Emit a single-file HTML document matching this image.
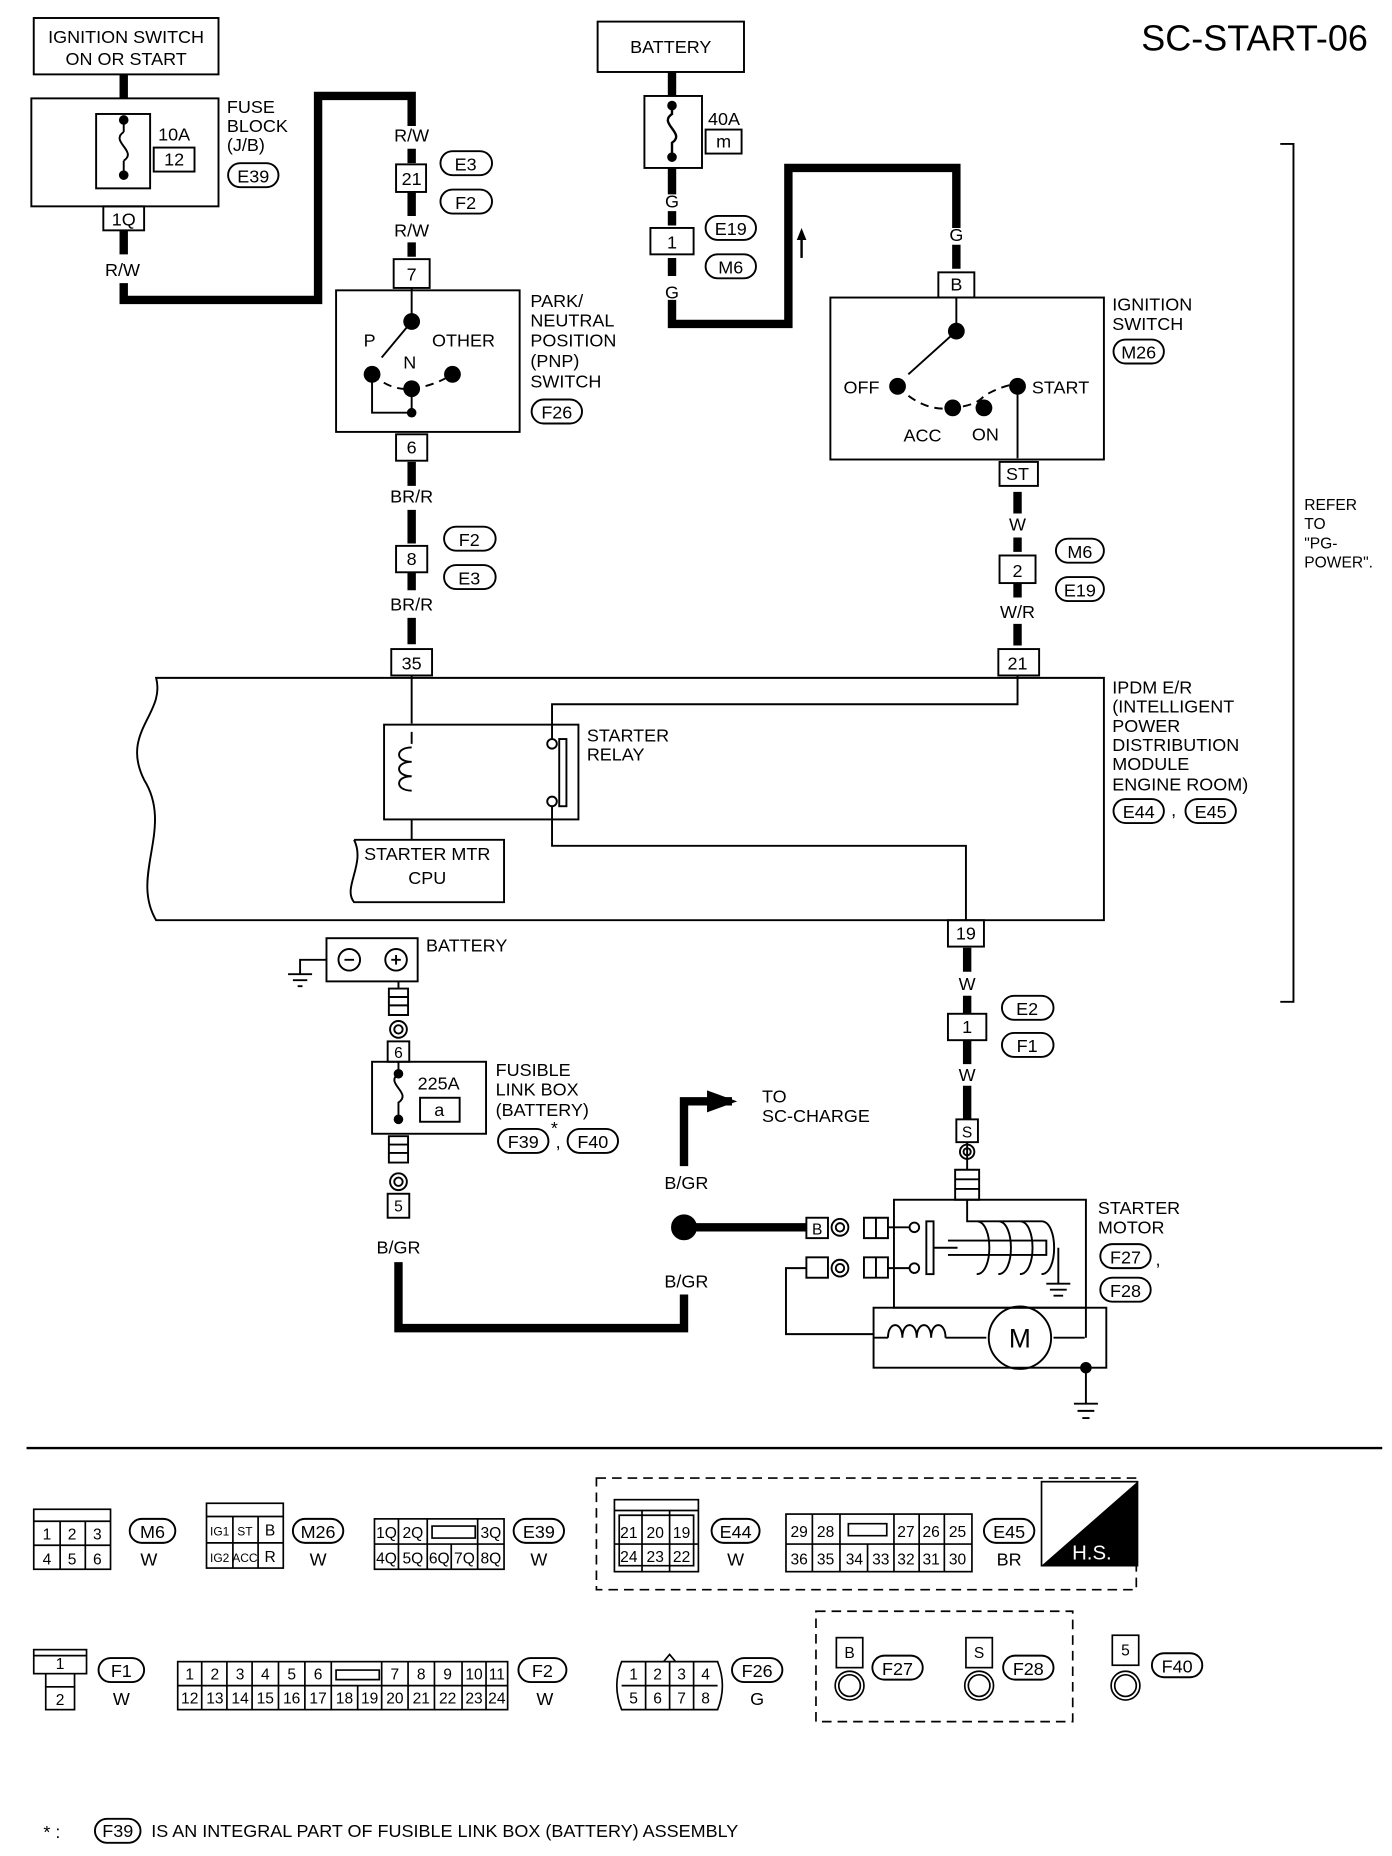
<!DOCTYPE html>
<html><head><meta charset="utf-8"><style>
html,body{margin:0;padding:0;background:#fff}
svg{display:block}
text{font-family:"Liberation Sans",sans-serif;font-size:15px;fill:#000}
.s{font-size:13px}
.c{text-anchor:middle}
</style></head><body>
<svg width="1392" height="1856" viewBox="0 0 1160 1547" xmlns="http://www.w3.org/2000/svg">
<g fill="none" stroke="#000" stroke-width="1.6">
<rect x="28" y="15" width="154" height="47"/>
<rect x="26" y="82" width="156" height="90"/>
<rect x="80" y="95" width="45" height="62"/>
<rect x="128" y="123" width="34" height="20"/>
<path d="M103 100 v10 M103 110 c-12 8 12 16 0 24 M103 134 v12" />
<rect x="86" y="172" width="34" height="20"/>
<path d="M103 62 v20 M103 192 v20 M103 236 v14 h162 v-170 h78 v25 M343 124 v12 M343 160 v20 M343 202 v12 M343 385 v20 M343 425 v28 M343 477 v15 M343 515 v22" stroke-width="7"/>
<rect x="330" y="137" width="25" height="23"/>
<rect x="328" y="216" width="30" height="24"/>
<rect x="280" y="242" width="153" height="118"/>
<rect x="330" y="362" width="26" height="22"/>
<rect x="330" y="455" width="26" height="22"/>
<rect x="326" y="541" width="34" height="22"/>
<path d="M343 240 v28 M343 268 L318 298 M310 312 v32 h33 v-20 M343 324 v20" />
<path d="M310 312 q16 14 33 12 q18 -2 34 -12" stroke-dasharray="7 5"/>
<rect x="498" y="18" width="122" height="42"/>
<rect x="537" y="80" width="48" height="60"/>
<path d="M560 85 v10 c-12 8 12 16 0 24 v12" stroke-width="2"/>
<path d="M560 60 v20" stroke-width="7"/>
<rect x="588" y="108" width="30" height="20"/>
<path d="M560 140 v22 M560 176 v12 M560 215 v15 M560 250 v20 h97 v-130 h140 v50 M797 204 v20" stroke-width="7"/>
<rect x="542" y="190" width="36" height="22"/>
<path d="M668 215 v-20" stroke-width="2"/>
<rect x="782" y="227" width="30" height="21"/>
<rect x="692" y="248" width="228" height="135"/>
<path d="M797 248 v28 L757 312 M848 322 v60" />
<path d="M748 322 q22 22 46 18 q20 -2 26 -10 q14 -8 26 -10" stroke-dasharray="7 5"/>
<rect x="833" y="385" width="32" height="20"/>
<path d="M848 410 v18 M848 448 v12 M848 486 v12 M848 520 v18" stroke-width="7"/>
<rect x="833" y="463" width="30" height="23"/>
<rect x="832" y="541" width="34" height="22"/>
<path d="M130 565 H920 V767 H130 C108 730 145 690 120 650 C100 610 138 595 130 565Z"/>
<rect x="320" y="604" width="162" height="79"/>
<path d="M343 563 v40 M343 620 v-10 M343 683 v17 M460 620 v-33 h388 v-24 M460 668 v37 h345 v62"/>
<path d="M343 623 c-14 0 -14 12 0 12 c-14 0 -14 12 0 12 c-14 0 -14 12 0 12" />
<rect x="466" y="616" width="6" height="56"/>
<circle cx="460" cy="620" r="4" fill="#fff"/><circle cx="460" cy="668" r="4" fill="#fff"/>
<path d="M295 700 H420 V752 H295 C285 740 305 720 295 700"/>
<rect x="790" y="767" width="30" height="22"/>
<path d="M806 790 v20 M806 830 v15 M806 867 v20 M806 905 v28" stroke-width="7"/>
<rect x="790" y="845" width="32" height="22"/>
<rect x="797" y="933" width="18" height="19"/>
<circle cx="806" cy="960" r="6"/><circle cx="806" cy="960" r="3"/>
<path d="M1067 120 h11 v715 h-11"/>
<rect x="272" y="782" width="76" height="36"/>
<circle cx="291" cy="800" r="9"/><circle cx="330" cy="800" r="9"/>
<path d="M287 800 h8 M326 800 h8 M330 796 v8 M272 800 h-22 v12 M240 812 h20 M244 817 h12 M248 822 h4"/>
<path d="M332 818 v6 M324 824 h16 v22 h-16z M324 831 h16 M324 838 h16"/>
<circle cx="332" cy="858" r="7"/><circle cx="332" cy="858" r="3.5"/>
<rect x="323" y="868" width="18" height="17"/>
<rect x="310" y="885" width="95" height="60"/>
<path d="M332 885 v10 c-12 8 12 16 0 24 v14"/>
<rect x="350" y="915" width="33" height="20"/>
<path d="M324 947 h16 v22 h-16z M324 954 h16 M324 961 h16"/>
<circle cx="332" cy="985" r="7"/><circle cx="332" cy="985" r="3.5"/>
<rect x="323" y="995" width="18" height="20"/>
<path d="M332 1052 v55 h238 v-28 M570 972 v-54 h40" stroke-width="7"/>
<path d="M590 926 l22 -8 l-22 -8z" fill="#000"/>
<path d="M570 1023 h102" stroke-width="7"/>
<circle cx="570" cy="1023" r="10" fill="#000"/>
<rect x="672" y="1015" width="18" height="17"/>
<circle cx="700" cy="1023" r="7"/><circle cx="700" cy="1023" r="3.5"/>
<rect x="672" y="1048" width="18" height="17"/>
<circle cx="700" cy="1057" r="7"/><circle cx="700" cy="1057" r="3.5"/>
<path d="M672 1057 h-17 v55 h73"/>
<rect x="745" y="1000" width="160" height="90"/>
<path d="M720 1015 h20 v17 h-20z M730 1015 v17 M720 1048 h20 v17 h-20z M730 1048 v17"/>
<path d="M796 975 h20 v25 h-20z M796 983 h20 M796 991 h20 M806 952 v23"/>
<path d="M740 1023 h20 M740 1057 h20"/>
<circle cx="762" cy="1023" r="4" fill="#fff"/><circle cx="762" cy="1057" r="4" fill="#fff"/>
<rect x="772" y="1018" width="6" height="44"/>
<path d="M778 1040 h20 M790 1034 h82 v12 h-82"/>
<path d="M806 1000 v18 h8 M814 1018 c14 0 14 44 0 44 M832 1018 c14 0 14 44 0 44 M850 1018 c14 0 14 44 0 44 M868 1018 c14 0 14 44 0 44 M814 1018 h54 M882 1040 v30 M872 1070 h20 M875 1075 h14 M878 1080 h8"/>
<rect x="728" y="1090" width="194" height="50"/>
<path d="M740 1115 c0 -14 12 -14 12 0 c0 -14 12 -14 12 0 c0 -14 12 -14 12 0 c0 -14 12 -14 12 0 M728 1115 h12 M788 1115 h34 M878 1115 h26"/>
<circle cx="850" cy="1115" r="26"/>
<path d="M905 1090 v25 M905 1140 v30 M895 1170 h20 M898 1176 h14 M902 1182 h6"/>
<circle cx="905" cy="1140" r="4" fill="#000"/>
<path d="M22 1207 H1152" stroke-width="2"/>
</g>
<g fill="#000">
<circle cx="103" cy="146" r="4"/><circle cx="103" cy="100" r="4"/>
<circle cx="343" cy="268" r="7"/><circle cx="310" cy="312" r="7"/><circle cx="343" cy="324" r="7"/><circle cx="377" cy="312" r="7"/><circle cx="343" cy="344" r="4"/>
<circle cx="560" cy="88" r="4"/><circle cx="560" cy="131" r="4"/>
<circle cx="797" cy="276" r="7"/><circle cx="748" cy="322" r="7"/><circle cx="794" cy="340" r="7"/><circle cx="820" cy="340" r="7"/><circle cx="848" cy="322" r="7"/>
<circle cx="332" cy="895" r="4"/><circle cx="332" cy="933" r="4"/>
<path d="M668 190 l-4 10 h8z"/>
</g>
<g fill="#fff" stroke="#000" stroke-width="1.6">
<rect x="190" y="136" width="42" height="20" rx="10"/>
<rect x="367" y="126" width="43" height="20" rx="10"/><rect x="367" y="158" width="43" height="20" rx="10"/>
<rect x="443" y="333" width="42" height="20" rx="10"/>
<rect x="370" y="439" width="43" height="20" rx="10"/><rect x="370" y="471" width="43" height="20" rx="10"/>
<rect x="588" y="180" width="42" height="20" rx="10"/><rect x="588" y="212" width="42" height="20" rx="10"/>
<rect x="928" y="283" width="42" height="20" rx="10"/>
<rect x="880" y="449" width="40" height="20" rx="10"/><rect x="880" y="481" width="40" height="20" rx="10"/>
<rect x="928" y="666" width="42" height="20" rx="10"/><rect x="988" y="666" width="42" height="20" rx="10"/>
<rect x="835" y="830" width="43" height="20" rx="10"/><rect x="835" y="861" width="43" height="20" rx="10"/>
<rect x="415" y="941" width="42" height="20" rx="10"/><rect x="473" y="941" width="42" height="20" rx="10"/>
<rect x="917" y="1037" width="42" height="20" rx="10"/><rect x="917" y="1065" width="42" height="20" rx="10"/>
</g>
<text x="105" y="36" class="c">IGNITION SWITCH</text><text x="105" y="54" class="c">ON OR START</text>
<text x="189" y="94">FUSE</text><text x="189" y="110">BLOCK</text><text x="189" y="126">(J/B)</text><text x="211" y="152" class="c">E39</text>
<text x="145" y="117" class="c">10A</text><text x="145" y="138" class="c">12</text>
<text x="103" y="188" class="c">1Q</text><text x="102" y="230" class="c">R/W</text>
<text x="343" y="118" class="c">R/W</text><text x="343" y="154" class="c">21</text><text x="388" y="142" class="c">E3</text><text x="388" y="174" class="c">F2</text>
<text x="343" y="197" class="c">R/W</text><text x="343" y="234" class="c">7</text>
<text x="442" y="256">PARK/</text><text x="442" y="272">NEUTRAL</text><text x="442" y="289">POSITION</text><text x="442" y="306">(PNP)</text><text x="442" y="323">SWITCH</text><text x="464" y="349" class="c">F26</text>
<text x="303" y="289">P</text><text x="360" y="289">OTHER</text><text x="336" y="307">N</text>
<text x="343" y="378" class="c">6</text><text x="343" y="419" class="c">BR/R</text>
<text x="343" y="471" class="c">8</text><text x="391" y="455" class="c">F2</text><text x="391" y="487" class="c">E3</text>
<text x="343" y="509" class="c">BR/R</text><text x="343" y="558" class="c">35</text>
<text x="559" y="44" class="c">BATTERY</text><text x="590" y="104">40A</text><text x="603" y="123" class="c">m</text>
<text x="560" y="173" class="c">G</text><text x="560" y="207" class="c">1</text><text x="609" y="196" class="c">E19</text><text x="609" y="228" class="c">M6</text><text x="560" y="249" class="c">G</text>
<text x="797" y="201" class="c">G</text><text x="797" y="242" class="c">B</text>
<text x="927" y="259">IGNITION</text><text x="927" y="275">SWITCH</text><text x="949" y="299" class="c">M26</text>
<text x="703" y="328">OFF</text><text x="860" y="328">START</text><text x="753" y="368">ACC</text><text x="810" y="367">ON</text>
<text x="848" y="400" class="c">ST</text><text x="848" y="442" class="c">W</text><text x="848" y="481" class="c">2</text><text x="900" y="465" class="c">M6</text><text x="900" y="497" class="c">E19</text>
<text x="848" y="515" class="c">W/R</text><text x="848" y="558" class="c">21</text>
<text x="927" y="578">IPDM E/R</text><text x="927" y="594">(INTELLIGENT</text><text x="927" y="610">POWER</text><text x="927" y="626">DISTRIBUTION</text><text x="927" y="642">MODULE</text><text x="927" y="659">ENGINE ROOM)</text>
<text x="949" y="682" class="c">E44</text><text x="976" y="680">,</text><text x="1009" y="682" class="c">E45</text>
<text x="489" y="618">STARTER</text><text x="489" y="634">RELAY</text>
<text x="356" y="717" class="c">STARTER MTR</text><text x="356" y="737" class="c">CPU</text>
<text x="1087" y="425" class="s">REFER</text><text x="1087" y="441" class="s">TO</text><text x="1087" y="457" class="s">"PG-</text><text x="1087" y="473" class="s">POWER".</text>
<text x="805" y="783" class="c">19</text><text x="806" y="825" class="c">W</text><text x="806" y="861" class="c">1</text><text x="856" y="846" class="c">E2</text><text x="856" y="877" class="c">F1</text><text x="806" y="901" class="c">W</text><text x="806" y="948" class="c s">S</text>
<text x="355" y="793">BATTERY</text><text x="332" y="882" class="c s">6</text>
<text x="348" y="908">225A</text><text x="366" y="930" class="c">a</text>
<text x="413" y="897">FUSIBLE</text><text x="413" y="913">LINK BOX</text><text x="413" y="930">(BATTERY)</text>
<text x="436" y="957" class="c">F39</text><text x="459" y="945">*</text><text x="463" y="957">,</text><text x="494" y="957" class="c">F40</text>
<text x="332" y="1010" class="c s">5</text><text x="332" y="1045" class="c">B/GR</text>
<text x="572" y="991" class="c">B/GR</text><text x="572" y="1073" class="c">B/GR</text>
<text x="635" y="919">TO</text><text x="635" y="935">SC-CHARGE</text>
<text x="681" y="1029" class="c s">B</text>
<text x="915" y="1012">STARTER</text><text x="915" y="1028">MOTOR</text><text x="938" y="1053" class="c">F27</text><text x="963" y="1055">,</text><text x="938" y="1081" class="c">F28</text>
<text x="850" y="1123" class="c" style="font-size:22px">M</text>
<text x="1140" y="42" style="font-size:30px;text-anchor:end">SC-START-06</text>
<text x="1145" y="1556" style="font-size:10px;text-anchor:end">WKWA5776E</text>
<text x="36" y="1532">* :</text>
<rect x="79" y="1516" width="38" height="20" rx="10" fill="none" stroke="#000" stroke-width="1.6"/>
<text x="98" y="1531" class="c">F39</text>
<text x="126" y="1531">IS AN INTEGRAL PART OF FUSIBLE LINK BOX (BATTERY) ASSEMBLY</text>
<g fill="none" stroke="#000" stroke-width="1.4">
<rect x="28" y="1258" width="64" height="50"/><path d="M28 1268 h64 M28 1288 h64 M50 1268 v40 M71 1268 v40"/>
<rect x="172" y="1253" width="64" height="54"/><path d="M172 1264 h64 M172 1286 h64 M194 1264 v43 M215 1264 v43"/>
<rect x="312" y="1266" width="108" height="42"/><path d="M312 1287 h108 M332 1266 v42 M356 1266 v42 M398 1266 v42 M376 1287 v21 M360 1272 h36 v10 h-36z"/>
<rect x="497" y="1232" width="450" height="93" stroke-dasharray="8 5"/>
<rect x="512" y="1250" width="70" height="60"/><path d="M512 1259 h70 M512 1287 h70 M535 1259 v51 M558 1259 v51 M516 1263 h62 v42 h-62z"/>
<rect x="655" y="1262" width="155" height="48"/><path d="M655 1287 h155 M677 1262 v48 M700 1262 v48 M745 1262 v25 M766 1262 v48 M787 1262 v48 M723 1287 v23 M745 1287 v23 M707 1270 h32 v10 h-32z"/>
<rect x="680" y="1343" width="214" height="92" stroke-dasharray="8 5"/>
<rect x="28" y="1375" width="44" height="20"/><rect x="38" y="1406" width="24" height="19"/><path d="M38 1395 v11 M62 1395 v11 M28 1380 h44"/>
<rect x="148" y="1385" width="275" height="40"/><path d="M148 1405 h275 M168 1385 v40 M189 1385 v40 M210 1385 v40 M232 1385 v40 M254 1385 v40 M276 1385 v40 M318 1385 v40 M340 1385 v40 M362 1385 v40 M385 1385 v40 M405 1385 v40 M298 1405 v20 M280 1392 h36 v8 h-36z"/>
<path d="M518 1385 h80 q8 20 0 40 h-80 q-8 -20 0 -40z M538 1385 v40 M558 1385 v40 M578 1385 v40 M518 1405 h80 M553 1385 l5 -6 l5 6"/>
<rect x="697" y="1365" width="22" height="25"/><circle cx="708" cy="1405" r="12"/><circle cx="708" cy="1405" r="9"/>
<rect x="805" y="1365" width="22" height="25"/><circle cx="816" cy="1405" r="12"/><circle cx="816" cy="1405" r="9"/>
<rect x="927" y="1363" width="22" height="25"/><circle cx="938" cy="1405" r="12"/><circle cx="938" cy="1405" r="9"/>
</g>
<g fill="#fff" stroke="#000" stroke-width="1.6">
<rect x="108" y="1266" width="38" height="20" rx="10"/><rect x="244" y="1266" width="42" height="20" rx="10"/><rect x="428" y="1266" width="42" height="20" rx="10"/>
<rect x="593" y="1266" width="40" height="20" rx="10"/><rect x="820" y="1266" width="42" height="20" rx="10"/>
<rect x="82" y="1382" width="38" height="20" rx="10"/><rect x="432" y="1382" width="40" height="20" rx="10"/><rect x="610" y="1382" width="42" height="20" rx="10"/>
<rect x="727" y="1380" width="42" height="20" rx="10"/><rect x="836" y="1380" width="42" height="20" rx="10"/><rect x="960" y="1378" width="42" height="20" rx="10"/>
</g>
<path d="M868 1305 L948 1235 V1305Z" fill="#000"/>
<rect x="868" y="1235" width="80" height="70" fill="none" stroke="#000" stroke-width="1.4"/>
<text x="910" y="1300" class="c" style="fill:#fff;font-size:17px">H.S.</text>
<g class="s">
<text x="39" y="1283" class="c s">1</text><text x="60" y="1283" class="c s">2</text><text x="81" y="1283" class="c s">3</text><text x="39" y="1304" class="c s">4</text><text x="60" y="1304" class="c s">5</text><text x="81" y="1304" class="c s">6</text>
<text x="127" y="1282" class="c">M6</text><text x="124" y="1305" class="c">W</text>
<text x="183" y="1280" class="c" style="font-size:10px">IG1</text><text x="204" y="1280" class="c" style="font-size:10px">ST</text><text x="225" y="1280" class="c s">B</text>
<text x="183" y="1302" class="c" style="font-size:10px">IG2</text><text x="204" y="1302" class="c" style="font-size:10px">ACC</text><text x="225" y="1302" class="c s">R</text>
<text x="265" y="1282" class="c">M26</text><text x="265" y="1305" class="c">W</text>
<text x="322" y="1282" class="c s">1Q</text><text x="344" y="1282" class="c s">2Q</text><text x="409" y="1282" class="c s">3Q</text>
<text x="322" y="1303" class="c s">4Q</text><text x="344" y="1303" class="c s">5Q</text><text x="366" y="1303" class="c s">6Q</text><text x="387" y="1303" class="c s">7Q</text><text x="409" y="1303" class="c s">8Q</text>
<text x="449" y="1282" class="c">E39</text><text x="449" y="1305" class="c">W</text>
<text x="524" y="1282" class="c s">21</text><text x="546" y="1282" class="c s">20</text><text x="568" y="1282" class="c s">19</text>
<text x="524" y="1302" class="c s">24</text><text x="546" y="1302" class="c s">23</text><text x="568" y="1302" class="c s">22</text>
<text x="613" y="1282" class="c">E44</text><text x="613" y="1305" class="c">W</text>
<text x="666" y="1281" class="c s">29</text><text x="688" y="1281" class="c s">28</text><text x="755" y="1281" class="c s">27</text><text x="776" y="1281" class="c s">26</text><text x="798" y="1281" class="c s">25</text>
<text x="666" y="1304" class="c s">36</text><text x="688" y="1304" class="c s">35</text><text x="712" y="1304" class="c s">34</text><text x="734" y="1304" class="c s">33</text><text x="755" y="1304" class="c s">32</text><text x="776" y="1304" class="c s">31</text><text x="798" y="1304" class="c s">30</text>
<text x="841" y="1282" class="c">E45</text><text x="841" y="1305" class="c">BR</text>
<text x="50" y="1391" class="c s">1</text><text x="50" y="1421" class="c s">2</text>
<text x="101" y="1398" class="c">F1</text><text x="101" y="1421" class="c">W</text>
<text x="158" y="1400" class="c s">1</text><text x="179" y="1400" class="c s">2</text><text x="200" y="1400" class="c s">3</text><text x="221" y="1400" class="c s">4</text><text x="243" y="1400" class="c s">5</text><text x="265" y="1400" class="c s">6</text><text x="329" y="1400" class="c s">7</text><text x="351" y="1400" class="c s">8</text><text x="373" y="1400" class="c s">9</text><text x="395" y="1400" class="c s">10</text><text x="414" y="1400" class="c s">11</text>
<text x="158" y="1420" class="c s">12</text><text x="179" y="1420" class="c s">13</text><text x="200" y="1420" class="c s">14</text><text x="221" y="1420" class="c s">15</text><text x="243" y="1420" class="c s">16</text><text x="265" y="1420" class="c s">17</text><text x="287" y="1420" class="c s">18</text><text x="308" y="1420" class="c s">19</text><text x="329" y="1420" class="c s">20</text><text x="351" y="1420" class="c s">21</text><text x="373" y="1420" class="c s">22</text><text x="395" y="1420" class="c s">23</text><text x="414" y="1420" class="c s">24</text>
<text x="452" y="1398" class="c">F2</text><text x="454" y="1421" class="c">W</text>
<text x="528" y="1400" class="c s">1</text><text x="548" y="1400" class="c s">2</text><text x="568" y="1400" class="c s">3</text><text x="588" y="1400" class="c s">4</text>
<text x="528" y="1420" class="c s">5</text><text x="548" y="1420" class="c s">6</text><text x="568" y="1420" class="c s">7</text><text x="588" y="1420" class="c s">8</text>
<text x="631" y="1398" class="c">F26</text><text x="631" y="1421" class="c">G</text>
<text x="708" y="1382" class="c s">B</text><text x="748" y="1396" class="c">F27</text>
<text x="816" y="1382" class="c s">S</text><text x="857" y="1396" class="c">F28</text>
<text x="938" y="1380" class="c s">5</text><text x="981" y="1394" class="c">F40</text>
</g>
</svg>
</body></html>
